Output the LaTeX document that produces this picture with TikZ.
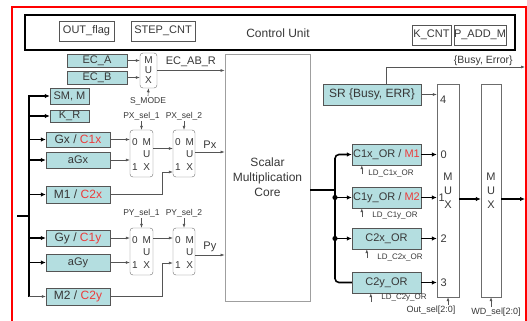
\documentclass[tikz,border=0pt]{standalone}
\usepackage{fontspec}
\setmainfont{Liberation Sans}
\usetikzlibrary{arrows.meta,calc,positioning}
\definecolor{regfill}{RGB}{180,222,224}
\definecolor{boxline}{RGB}{85,85,85}
\definecolor{txtred}{RGB}{235,60,60}
\definecolor{txtgray}{RGB}{55,55,55}
\newcommand{\rd}[1]{\textcolor{txtred}{#1}}
% labels inside a 2:1 mux
\newcommand{\muxtxt}[1]{%
  \node[muxl] (#1-0) at ($(#1.north west)+(5,12)$) {0};
  \node[muxl] (#1-m) at ($(#1.north west)+(17,12)$) {M};
  \node[muxl] (#1-u) at ($(#1.north west)+(17,24)$) {U};
  \node[muxl] (#1-1) at ($(#1.north west)+(5,37)$) {1};
  \node[muxl] (#1-x) at ($(#1.north west)+(17,37)$) {X};}

\begin{document}
\begin{tikzpicture}[x=1pt,y=-1pt,
    reg/.style={draw=boxline, fill=regfill, inner sep=0pt, text=txtgray,
        font=\fontsize{11}{12}\selectfont},
    wide/.style={font=\fontsize{12}{12}\selectfont},
    plainbox/.style={draw=boxline, inner sep=0pt, text=txtgray,
        font=\fontsize{11}{12}\selectfont},
    muxbox/.style={draw=gray!85!black, rounded corners=3pt, inner sep=0pt,
        text=txtgray, align=center},
    muxl/.style={inner sep=0pt, text=txtgray, font=\fontsize{10}{10}\selectfont},
    lbl/.style={inner sep=1pt, text=txtgray, font=\fontsize{8.5}{9}\selectfont},
    wire/.style={draw=boxline, line width=0.6pt, -{Latex[length=4pt,width=3pt]}},
    buswire/.style={draw=black, line width=1.6pt, -{Latex[length=5pt,width=4.5pt]}},
]
    \useasboundingbox (0,0) rectangle (527,321);
    \draw[red, line width=1.5pt] (12,7) rectangle (526,340);

    % control unit
    \node[draw=black, line width=1.6pt, minimum width=490pt, minimum height=35pt, inner sep=0pt] (ctrl) at (270,32.5) {};
    \node[text=txtgray, font=\fontsize{12}{12}\selectfont] (ctrlt) at (278,33) {Control Unit};
    \node[plainbox, minimum width=55pt, minimum height=20pt] (outflag) at (86.5,31) {OUT\_flag};
    \node[plainbox, minimum width=64pt, minimum height=20pt] (stepcnt) at (163,31) {STEP\_CNT};
    \node[plainbox, minimum width=39pt, minimum height=20pt] (kcnt) at (431.5,35) {K\_CNT};
    \node[plainbox, minimum width=52pt, minimum height=20pt] (paddm) at (480,35) {P\_ADD\_M};

    % input registers
    \node[reg, minimum width=60pt, minimum height=13pt] (eca) at (97,60.5) {EC\_A};
    \node[reg, minimum width=60pt, minimum height=13pt] (ecb) at (97,77.5) {EC\_B};
    \node[reg, minimum width=39pt, minimum height=16pt] (smm) at (69.5,96) {SM, M};
    \node[reg, minimum width=39pt, minimum height=12pt] (kr) at (69.5,116) {K\_R};
    \node[reg, wide, minimum width=64pt, minimum height=15pt] (gx) at (78,139.5) {Gx / \rd{C1x}};
    \node[reg, minimum width=64pt, minimum height=16pt] (agx) at (78,160) {aGx};
    \node[reg, wide, minimum width=64pt, minimum height=17pt] (m1) at (78,194.5) {M1 / \rd{C2x}};
    \node[reg, wide, minimum width=64pt, minimum height=16pt] (gy) at (78,238) {Gy / \rd{C1y}};
    \node[reg, minimum width=64pt, minimum height=17pt] (agy) at (78,262.5) {aGy};
    \node[reg, wide, minimum width=64pt, minimum height=17pt] (m2) at (78,296.5) {M2 / \rd{C2y}};

    % input bus
    \coordinate (lbus) at (29,200);
    \coordinate (lin) at (17,216);
    \draw[line width=1.6pt] (lin) -- (lin -| lbus);
    \draw[buswire] (lbus |- m2.west) -- (lbus |- smm.west) -- (smm.west);
    \foreach \r in {kr,gx,agx,m1,gy,agy}
        \draw[buswire] (lbus |- \r.west) -- (\r.west);
    \draw[wire] (lbus |- m2.west) -- (m2.west);

    % muxes
    \node[muxbox, minimum width=17pt, minimum height=35pt, font=\fontsize{10}{10}\selectfont] (smux) at (148.5,70.5) {M\\U\\X};
    \node[muxbox, minimum width=23pt, minimum height=47pt] (pxa) at (141.5,153.5) {};
    \node[muxbox, minimum width=22pt, minimum height=47pt] (pxb) at (184,153.5) {};
    \node[muxbox, minimum width=23pt, minimum height=47pt] (pya) at (141.5,251.5) {};
    \node[muxbox, minimum width=22pt, minimum height=47pt] (pyb) at (184,251.5) {};
    \muxtxt{pxa}\muxtxt{pxb}\muxtxt{pya}\muxtxt{pyb}

    \node[lbl] (smode) at (148,101) {S\_MODE};
    \node[lbl] (pxs1) at (141.5,116) {PX\_sel\_1};
    \node[lbl] (pxs2) at (184,116) {PX\_sel\_2};
    \node[lbl] (pys1) at (141.5,213) {PY\_sel\_1};
    \node[lbl] (pys2) at (184,213) {PY\_sel\_2};
    \draw[wire] (smode.north) -- (smux.south);
    \draw[wire] (pxs1.south) -- (pxa.north);
    \draw[wire] (pxs2.south) -- (pxb.north);
    \draw[wire] (pys1.south) -- (pya.north);
    \draw[wire] (pys2.south) -- (pyb.north);

    \draw[wire] (eca.east) -- (eca.east -| smux.west);
    \draw[wire] (ecb.east) -- (ecb.east -| smux.west);
    \draw[wire] (gx.east) -- (gx.east -| pxa.west);
    \draw[wire] (agx.east) -- (agx.east -| pxa.west);
    \draw[wire] ($(pxa.east)+(0,-5)$) -- ($(pxb.west)+(0,-5)$);
    \draw[wire] (m1.east) -- ++(52,0) |- ($(pxb.west)+(0,18.5)$);
    \draw[wire] (gy.east) -- (gy.east -| pya.west);
    \draw[wire] (agy.east) -- (agy.east -| pya.west);
    \draw[wire] (pya.east |- gy.east) -- (pyb.west |- gy.east);
    \draw[wire] (m2.east) -- ++(52,0) |- ($(pyb.west)+(0,11.5)$);

    % core
    \node[draw=gray!75, line width=0.9pt, minimum width=85pt, minimum height=247pt, inner sep=0pt,
        align=center, text=txtgray, font=\fontsize{12}{15}\selectfont] (core) at (267.5,177.5) {Scalar\\Multiplication\\Core};
    \draw[wire] (smux.east) -- (smux.east -| core.west) node[midway, above, text=txtgray, font=\fontsize{11}{12}\selectfont]{EC\_AB\_R};
    \draw[wire] ($(pxb.east)+(0,-1.5)$) -- ($(pxb.east -| core.west)+(0,-1.5)$) node[midway, above, text=txtgray, font=\fontsize{11}{12}\selectfont]{Px};
    \draw[wire] ($(pyb.east)+(0,3.5)$) -- ($(pyb.east -| core.west)+(0,3.5)$) node[midway, above, text=txtgray, font=\fontsize{11}{12}\selectfont]{Py};

    % output registers
    \node[reg, wide, minimum width=98pt, minimum height=21pt] (sr) at (372,94.5) {SR \{Busy, ERR\}};
    \node[reg, minimum width=69pt, minimum height=21pt] (c1x) at (386.5,154.5) {C1x\_OR / \rd{M1}};
    \node[reg, minimum width=69pt, minimum height=21pt] (c1y) at (386.5,197.5) {C1y\_OR / \rd{M2}};
    \node[reg, minimum width=69pt, minimum height=21pt] (c2x) at (386.5,238.5) {C2x\_OR};
    \node[reg, minimum width=69pt, minimum height=21pt] (c2y) at (386.5,282.5) {C2y\_OR};

    \node[lbl, font=\fontsize{8}{9}\selectfont] (ldc1x) at (391,173) {LD\_C1x\_OR};
    \node[lbl, font=\fontsize{8}{9}\selectfont] (ldc1y) at (395,216) {LD\_C1y\_OR};
    \node[lbl, font=\fontsize{8}{9}\selectfont] (ldc2x) at (400,257) {LD\_C2x\_OR};
    \node[lbl, font=\fontsize{8}{9}\selectfont] (ldc2y) at (404,298) {LD\_C2y\_OR};
    \draw[wire] ($(c1x.south west)+(10,9)$) -- ($(c1x.south west)+(10,0)$);
    \draw[wire] ($(c1y.south west)+(10,9)$) -- ($(c1y.south west)+(10,0)$);
    \draw[wire] ($(c2x.south west)+(15,9)$) -- ($(c2x.south west)+(15,0)$);
    \draw[wire] ($(c2y.south west)+(19,9)$) -- ($(c2y.south west)+(19,0)$);

    % core output bus
    \coordinate (rbus) at (335,200);
    \coordinate (cout) at ($(core.east)+(0,12.5)$);
    \draw[line width=1.6pt] (cout) -- (cout -| rbus);
    \draw[buswire, {Latex[length=5pt,width=4.5pt]}-, rounded corners=4pt] (c1x.west) -| (rbus |- c2y.west) -- (c2y.west);
    \fill (rbus |- c1y.west) circle (2.6pt);
    \fill (rbus |- c2x.west) circle (2.6pt);
    \draw[buswire] (rbus |- c1y.west) -- (c1y.west);
    \draw[buswire] (rbus |- c2x.west) -- (c2x.west);

    % output muxes
    \node[muxbox, rounded corners=0pt, minimum width=22pt, minimum height=213pt,
        font=\fontsize{11}{14}\selectfont] (bmux1) at (448,190.5) {M\\U\\X};
    \node[muxbox, rounded corners=0pt, minimum width=20pt, minimum height=213pt,
        font=\fontsize{11}{14}\selectfont] (bmux2) at (491,190.5) {M\\U\\X};
    \draw[wire] (sr.east) -- (sr.east -| bmux1.west) node[at end, right, muxl, xshift=3pt, yshift=-5pt, font=\fontsize{11}{12}\selectfont]{4};
    \draw[buswire] (c1x.east) -- (c1x.east -| bmux1.west) node[at end, right, muxl, xshift=3pt, font=\fontsize{11}{12}\selectfont]{0};
    \draw[buswire] (c1y.east) -- (c1y.east -| bmux1.west) node[at end, right, muxl, xshift=1pt, font=\fontsize{11}{12}\selectfont]{1};
    \draw[buswire] (c2x.east) -- (c2x.east -| bmux1.west) node[at end, right, muxl, xshift=3pt, font=\fontsize{11}{12}\selectfont]{2};
    \draw[buswire] (c2y.east) -- (c2y.east -| bmux1.west) node[at end, right, muxl, xshift=3pt, font=\fontsize{11}{12}\selectfont]{3};
    \draw[buswire] ($(bmux1.east)+(0,8.5)$) -- ($(bmux2.west)+(0,8.5)$);
    \coordinate (wdout) at (525,199);
    \draw[buswire] (wdout -| bmux2.east) -- (wdout);

    \coordinate (busyout) at (525,67);
    \draw[wire] ($(sr.north)+(14,0)$) |- (busyout) node[pos=0.85, above, lbl, font=\fontsize{10.5}{11}\selectfont]{\{Busy, Error\}};

    \node[lbl, font=\fontsize{9}{9}\selectfont] (osel) at (431,310) {Out\_sel[2:0]};
    \node[lbl, font=\fontsize{9}{9}\selectfont] (wsel) at (496,312) {WD\_sel[2:0]};
    \draw[wire] (osel.north -| bmux1.south) -- (bmux1.south);
    \draw[wire] (wsel.north -| bmux2.south) -- (bmux2.south);
\end{tikzpicture}
\end{document}
